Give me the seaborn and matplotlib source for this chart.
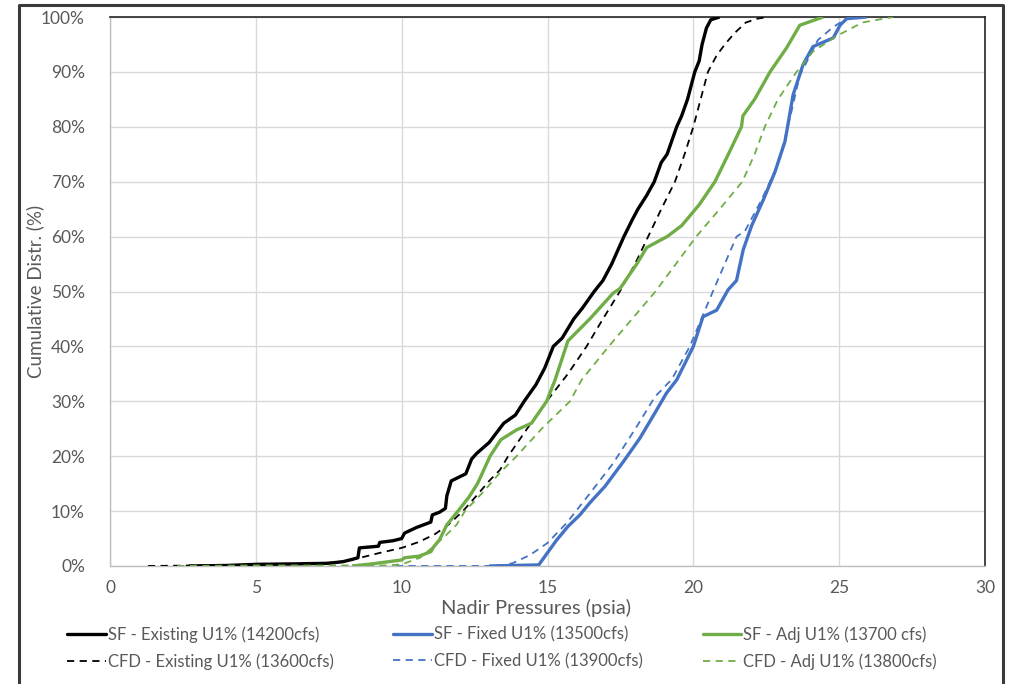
import matplotlib
matplotlib.use("Agg")
import matplotlib.pyplot as plt
import matplotlib.lines as mlines
import matplotlib.ticker as mticker
import numpy as np
import pandas as pd
import seaborn as sns

# Nadir pressure (psia) vs cumulative distribution (%) for each run
sf_existing_x = [2.7, 4.0, 5.0, 6.5, 7.5, 8.0, 8.3, 8.5, 8.55, 9.2, 9.25, 9.7, 10.0, 10.1, 10.5,
                 11.0, 11.05, 11.3, 11.5, 11.55, 11.7, 12.2, 12.4, 12.57, 13.0, 13.5, 13.9, 14.2,
                 14.6, 14.9, 15.2, 15.5, 15.9, 16.2, 16.6, 16.9, 17.2, 17.62, 17.9, 18.1, 18.4,
                 18.66, 18.9, 19.1, 19.43, 19.6, 19.8, 20.05, 20.2, 20.3, 20.45, 20.6, 20.9]
sf_existing_y = [0, 0.1, 0.3, 0.4, 0.5, 0.8, 1.2, 1.5, 3.3, 3.6, 4.3, 4.6, 5.0, 6.0, 7.0,
                 8.0, 9.3, 9.8, 10.5, 12.8, 15.5, 16.8, 19.5, 20.5, 22.5, 26, 27.5, 30,
                 33, 36, 40, 41.5, 45, 47, 50, 52, 55, 60, 63, 65, 67.5,
                 70, 73.5, 75, 80, 82, 85, 90, 92, 95, 98, 99.5, 100]

cfd_existing_x = [1.3, 3.0, 5.0, 7.0, 8.0, 8.5, 9.26, 10.0, 10.6, 11.14, 11.6, 12.1, 12.6, 13.0,
                  13.37, 13.65, 14.3, 14.97, 15.7, 16.34, 16.9, 17.48, 18.0, 18.45, 18.9, 19.37,
                  19.7, 20.0, 20.25, 20.5, 20.8, 21.08, 21.4, 21.8, 22.2, 22.56]
cfd_existing_y = [0, 0.1, 0.2, 0.4, 0.8, 1.4, 2.4, 3.3, 4.4, 5.8, 7.5, 10, 13, 15.5,
                  17.5, 20, 25, 30, 35, 40, 45, 50, 55, 60, 65, 70,
                  75, 80, 85, 90, 93, 95, 97, 99, 99.7, 100]

sf_fixed_x = [13.0, 14.7, 15.31, 15.7, 16.11, 16.45, 16.97, 17.6, 18.17, 18.74, 19.08, 19.43,
              20.0, 20.33, 20.8, 21.19, 21.48, 21.71, 22.0, 22.4, 22.8, 23.14, 23.24, 23.42,
              23.76, 24.1, 24.8, 25.03, 25.26, 25.94]
sf_fixed_y = [0, 0.2, 4.7, 7.2, 9.3, 11.5, 14.5, 19, 23.3, 28.4, 31.5, 33.9,
              40, 45.4, 46.6, 50.3, 52, 57.6, 62, 66.7, 71.8, 77.3, 80.3, 85.8,
              91.3, 94.6, 96.2, 98.5, 99.7, 100]

cfd_fixed_x = [9.8, 13.0, 13.5, 13.8, 14.4, 15.0, 15.65, 16.45, 17.25, 18.06, 18.68, 19.26,
               19.88, 20.67, 21.48, 21.77, 22.34, 22.8, 23.1, 23.33, 23.65, 24.0, 24.27,
               24.8, 25.26, 25.7]
cfd_fixed_y = [0, 0, 0.2, 0.5, 2, 4.2, 7.8, 13.2, 18.7, 25.4, 30.8, 34,
               40, 50, 60, 61, 66.7, 72, 77, 82, 89.4, 93, 95.8,
               98.2, 99.7, 100]

sf_adj_x = [8.3, 9.0, 10.0, 10.1, 10.6, 11.0, 11.1, 11.3, 11.55, 11.93, 12.3, 12.6, 13.03,
            13.4, 13.94, 14.45, 14.97, 15.26, 15.7, 16.45, 17.25, 17.48, 18.06, 18.4, 19.1,
            19.6, 20.2, 20.74, 21.2, 21.65, 21.7, 22.1, 22.63, 23.2, 23.65, 24.45]
sf_adj_y = [0, 0.4, 1.1, 1.5, 1.8, 2.6, 3.5, 4.8, 7.5, 10, 12.5, 15, 20,
            23, 24.8, 26.0, 30, 33.9, 41, 45, 49.7, 50.5, 55, 58, 60,
            62, 65.8, 70, 75, 80, 82, 85, 90, 94.4, 98.5, 100]

cfd_adj_x = [2.3, 5.0, 8.0, 9.5, 10.0, 10.63, 11.08, 11.5, 11.88, 12.17, 12.8, 13.37, 13.94,
             14.8, 15.77, 16.17, 17.1, 17.9, 18.7, 19.4, 20.1, 20.9, 21.68, 22.1, 22.45,
             22.9, 23.54, 24.1, 24.9, 25.8, 26.85]
cfd_adj_y = [0, 0.1, 0.1, 0.1, 0.3, 1.5, 3.5, 5.5, 7.5, 10, 13.5, 17, 20,
             25, 30, 33.9, 40, 45, 50, 55, 60, 65, 70, 75, 80,
             85, 90, 93.7, 96.5, 99, 100]

series_names = ["SF - Existing U1% (14200cfs)", "CFD - Existing U1% (13600cfs)",
                "SF - Fixed U1% (13500cfs)", "CFD - Fixed U1% (13900cfs)",
                "SF - Adj U1% (13700 cfs)", "CFD - Adj U1% (13800cfs)"]
series_data = [(sf_existing_x, sf_existing_y), (cfd_existing_x, cfd_existing_y),
               (sf_fixed_x, sf_fixed_y), (cfd_fixed_x, cfd_fixed_y),
               (sf_adj_x, sf_adj_y), (cfd_adj_x, cfd_adj_y)]

x_ticks = [0, 5, 10, 15, 20, 25, 30]
y_ticks = [0, 10, 20, 30, 40, 50, 60, 70, 80, 90, 100]

BLACK, BLUE, GREEN = "#000000", "#4472C4", "#70AD47"
styles = [
    dict(color=BLACK, lw=2.4, dashes=None),
    dict(color=BLACK, lw=1.3, dashes=(4, 3)),
    dict(color=BLUE, lw=2.4, dashes=None),
    dict(color=BLUE, lw=1.3, dashes=(4, 3)),
    dict(color=GREEN, lw=2.4, dashes=None),
    dict(color=GREEN, lw=1.3, dashes=(4, 3)),
]

sns.set_theme(style="white")
plt.rcParams["font.family"] = ["Lato", "DejaVu Sans"]
TEXT = "#595959"

fig = plt.figure(figsize=(10.1, 6.84), dpi=100)
ax = fig.add_axes([110 / 1010, 1 - 566 / 684, 875 / 1010, 549 / 684])

frames = []
for name, (xs, ys) in zip(series_names, series_data):
    frames.append(pd.DataFrame({"pressure": xs, "cdf": ys, "series": name}))
df = pd.concat(frames, ignore_index=True)

handles = []
for name, st in zip(series_names, styles):
    sub = df[df["series"] == name]
    sns.lineplot(data=sub, x="pressure", y="cdf", ax=ax, color=st["color"],
                 linewidth=st["lw"], sort=False, estimator=None, legend=False,
                 solid_joinstyle="round", solid_capstyle="butt", zorder=3)
    line = ax.lines[-1]
    if st["dashes"]:
        line.set_dashes(st["dashes"])
    h = mlines.Line2D([], [], color=st["color"], lw=st["lw"])
    if st["dashes"]:
        h.set_dashes(st["dashes"])
    handles.append(h)

ax.set_xlim(0, 30)
ax.set_ylim(0, 100)
ax.set_xticks(x_ticks)
ax.set_yticks(y_ticks)
ax.yaxis.set_major_formatter(mticker.FuncFormatter(lambda v, p: f"{v:.0f}%"))
ax.grid(True, color="#d9d9d9", lw=1.0)
ax.set_axisbelow(True)
ax.tick_params(axis="both", length=0, labelsize=12.5, labelcolor=TEXT)
ax.tick_params(axis="x", pad=10)
ax.tick_params(axis="y", pad=18)

for side in ["left", "bottom"]:
    ax.spines[side].set_color("#bfbfbf")
    ax.spines[side].set_linewidth(1.0)
for side in ["top", "right"]:
    ax.spines[side].set_color("#262626")
    ax.spines[side].set_linewidth(1.2)

ax.set_xlabel("Nadir Pressures (psia)", fontsize=14.5, color=TEXT)
ax.set_ylabel("Cumulative Distr. (%)", fontsize=13.5, color=TEXT)
ax.xaxis.set_label_coords(0.487, -0.06)
ax.yaxis.set_label_coords(-0.0755, 0.5)

fig.legend(handles, series_names, loc="center", bbox_to_anchor=(0.497, 1 - 648 / 684),
           ncol=3, frameon=False, fontsize=12, labelcolor=TEXT,
           handlelength=2.3, handletextpad=0.12, columnspacing=3.6,
           labelspacing=0.62, borderaxespad=0)

# outer chart frame
frame = mlines.Line2D([19 / 1010, 19 / 1010, 1003 / 1010, 1003 / 1010],
                      [-0.02, 1 - 5 / 684, 1 - 5 / 684, -0.02],
                      transform=fig.transFigure, color="#3a3a3a", lw=2.2)
fig.add_artist(frame)

fig.savefig("out.png", dpi=100, facecolor="white")
